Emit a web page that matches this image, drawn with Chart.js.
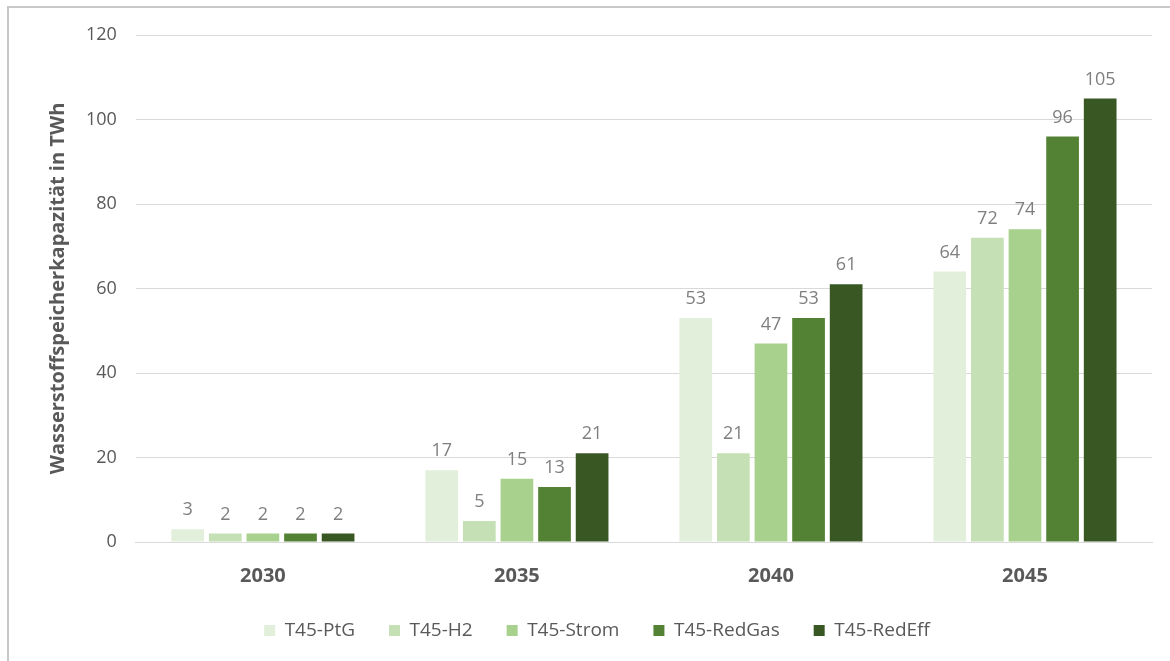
<!DOCTYPE html>
<html>
<head>
<meta charset="utf-8">
<script src="https://cdn.jsdelivr.net/npm/chart.js@4.4.1/dist/chart.umd.min.js"></script>
<style>
	html, body { margin: 0; padding: 0; background: #ffffff; }
	#frame {
		position: absolute; left: 7px; top: 6px;
		width: 1200px; height: 700px;
		border: 2px solid #c8c8c8; box-sizing: border-box;
	}
	#wrap { position: absolute; left: 0; top: 0; width: 1170px; height: 661px; }
</style>
</head>
<body>
<div id="frame"></div>
<div id="wrap"><canvas id="storageChart"></canvas></div>
<script>
// Data
const years = ['2030', '2035', '2040', '2045'];
const ptg = [3, 17, 53, 64];
const h2 = [2, 5, 21, 72];
const strom = [2, 15, 47, 74];
const redGas = [2, 13, 53, 96];
const redEff = [2, 21, 61, 105];
const seriesNames = ['T45-PtG', 'T45-H2', 'T45-Strom', 'T45-RedGas', 'T45-RedEff'];
const yTicks = [0, 20, 40, 60, 80, 100, 120];

const colors = ['#e2efda', '#c5e0b4', '#a9d18e', '#548235', '#385723'];
const textGrey = '#595959';

// Value labels above bars
const valueLabels = {
	id: 'valueLabels',
	afterDatasetsDraw(chart) {
		const ctx = chart.ctx;
		ctx.save();
		ctx.font = '18px "Open Sans", sans-serif';
		ctx.fillStyle = '#7f7f7f';
		ctx.textAlign = 'center';
		ctx.textBaseline = 'bottom';
		chart.data.datasets.forEach((ds, i) => {
			chart.getDatasetMeta(i).data.forEach((bar, j) => {
				ctx.fillText(ds.data[j], bar.x, bar.y - 10);
			});
		});
		ctx.restore();
	}
};

const allSeries = [ptg, h2, strom, redGas, redEff];

const ctx = document.getElementById('storageChart').getContext('2d');
const storageChart = new Chart(ctx, {
	type: 'bar',
	data: {
		labels: years,
		datasets: allSeries.map((vals, i) => ({
			label: seriesNames[i],
			data: vals,
			backgroundColor: colors[i],
			borderWidth: 0,
			barPercentage: 0.87,
			categoryPercentage: 0.74
		}))
	},
	options: {
		responsive: true,
		maintainAspectRatio: false,
		animation: false,
		layout: { padding: { left: 42, right: 18, top: 35, bottom: 11 } },
		plugins: {
			tooltip: { enabled: false },
			legend: {
				position: 'bottom',
				labels: {
					color: textGrey,
					font: { size: 19, family: '"Open Sans", sans-serif' },
					boxWidth: 11,
					boxHeight: 11,
					padding: 34
				}
			}
		},
		scales: {
			x: {
				grid: { display: false },
				border: { color: '#d9d9d9' },
				ticks: {
					color: textGrey,
					font: { size: 20, weight: 'bold', family: '"Open Sans", sans-serif' },
					padding: 14
				},
				afterFit: (scale) => { scale.height -= 15; }
			},
			y: {
				min: 0,
				max: 120,
				afterBuildTicks: (axis) => { axis.ticks = yTicks.map(v => ({ value: v })); },
				afterFit: (scale) => { scale.width -= 7; },
				grid: { color: '#d9d9d9', drawTicks: false },
				border: { display: false },
				ticks: {
					color: textGrey,
					font: { size: 18, family: '"Open Sans", sans-serif' },
					padding: 19
				},
				title: {
					display: true,
					text: 'Wasserstoffspeicherkapazität in TWh',
					color: textGrey,
					font: { size: 20, weight: 'bold', family: '"Open Sans", sans-serif' },
					padding: { bottom: 4 }
				}
			}
		}
	},
	plugins: [valueLabels]
});
</script>
</body>
</html>
